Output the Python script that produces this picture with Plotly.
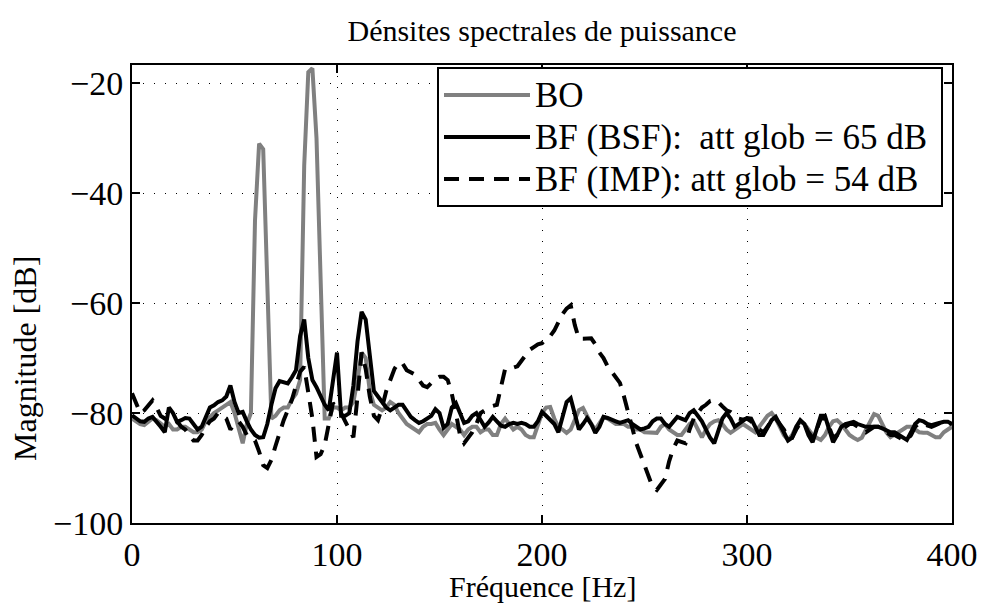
import plotly.graph_objects as go

freq = list(range(0, 401, 2))

bo = [-81, -81.5, -82, -82.2, -81.5, -81, -81.3, -82, -82.5, -82, -83, -83, -82.5, -82.5, -83, -83.5, -83.5, -83, -81.5, -80.7,
      -80, -79.5, -79, -78.5, -78, -80, -83, -85.5, -82, -80, -45, -31, -32, -55, -81, -80.5, -79.5, -79, -79, -77.5,
      -76.5, -74, -35, -18, -17.3, -30, -55, -81, -81, -79, -79, -79.5, -79, -79, -78, -74, -69, -70, -76, -78.5,
      -79, -79.5, -79, -78, -78.5, -80, -81, -82, -82.5, -83, -83.5, -82.5, -82, -82, -81.8, -83, -84, -83, -82, -82.5,
      -83, -84, -83, -82.5, -82.5, -83.5, -83, -83, -84, -84, -82, -81, -82, -83, -82.5, -83, -84, -84.4, -84.4, -82,
      -80, -79, -78.9, -81, -82.5, -83, -83.6, -83, -81, -79.5, -79.1, -80.5, -82, -83, -82, -80.7, -81, -81.5, -82, -82,
      -82, -82.5, -82.5, -83, -83, -83.5, -83.5, -83.6, -83.6, -82.5, -82, -83, -83.5, -84, -84, -83, -82, -81.5, -83, -84.4,
      -83, -82, -81.5, -81.3, -82, -83, -83.6, -83, -82.5, -82, -82.5, -83, -83.5, -82.5, -81.5, -80.5, -80, -81, -82.5, -84,
      -84.9, -84, -82.5, -81.5, -82, -83, -84, -84.5, -84.9, -84, -82.5, -81.5, -81.3, -82, -83, -84, -84.5, -84.9, -84.5, -83,
      -81.5, -80.2, -80.5, -82, -83.5, -84.4, -84, -83.5, -83, -82.5, -82.5, -83, -83.5, -83.6, -83.6, -84, -84.4, -84.4, -83.5, -83,
      -82.5]

bsf = [-80.4, -81, -81.5, -81.6, -81, -80.7, -81.5, -82.5, -83.5, -79, -80, -81.6, -81.3, -80.9, -81, -82, -83, -82.5, -80.5, -79,
       -78.6, -78, -77.7, -77, -75, -78, -80, -79.8, -81.5, -83, -84, -84.5, -84.4, -82, -78.5, -75.5, -74.2, -74.4, -74.6, -73.5,
       -72.2, -66, -63, -70, -74, -75.3, -77, -78.5, -79.5, -74, -69, -80.5, -80.5, -80, -75, -67, -61.6, -63, -70, -76,
       -77, -78, -79, -79.5, -79, -78.5, -78.5, -79.5, -80.7, -81.3, -81.8, -81.5, -80.9, -80.5, -79.3, -80, -82.7, -82, -79, -78.2,
       -80, -81.8, -81.5, -80.5, -80, -81.3, -82.5, -81.7, -80.7, -81.5, -82.3, -82.5, -82, -81.8, -82, -81.8, -82, -82.5, -82.5, -81.5,
       -79.8, -80.5, -81.3, -82, -83.5, -81, -78, -77.3, -80.5, -83, -82, -80.9, -82, -83.6, -82.5, -80.7, -80.9, -81.3, -81.5, -81.8,
       -81.5, -81.3, -82, -82.5, -83, -82.8, -82.5, -81.5, -81, -81, -82, -82.5, -81.5, -80.7, -81, -81.3, -80, -79.5, -80.5, -81.5,
       -83, -84.5, -85.5, -83, -81, -80, -81, -82.5, -82, -81.3, -80.9, -81, -82.5, -84, -84, -82.5, -81.3, -80.7, -82, -83.5,
       -85, -84.5, -82.5, -81.3, -82, -84, -85.3, -83, -80.5, -80.5, -83, -85.3, -84, -82.5, -82, -81.8, -81.6, -82, -82.3, -82.5,
       -82.5, -82.5, -82.5, -82.8, -83.2, -83.5, -83.5, -84, -84.5, -84.9, -83.5, -82, -81.3, -81.5, -82, -82.2, -82, -81.8, -81.6, -81.6,
       -82]

imp = [-76.4, -78, -80, -79.5, -78.5, -77.7, -79, -80.5, -81, -81.5, -81, -81.5, -82.5, -83, -84, -85, -85, -84, -82.5, -81.5,
       -81, -80, -80.5, -81, -83, -82, -81.5, -82.5, -84, -84.4, -85, -87, -89.5, -90, -88.5, -86, -83.5, -81.3, -79.5, -77.6,
       -75, -72.5, -71.6, -76, -81, -88, -87.5, -85.8, -82, -78.2, -79, -80, -81.5, -83, -84.4, -77, -69, -72, -77, -80.5,
       -81.3, -79, -76, -74, -72, -70.8, -71, -72.2, -72.6, -73, -74, -75, -75.3, -74.5, -73.8, -73.4, -73.4, -74, -76.5, -80,
       -84, -85.5, -84.5, -83.5, -82, -80, -79.5, -79, -78.7, -78.5, -75, -72, -72, -71.8, -71.5, -70.5, -69.5, -68.5, -68, -67.5,
       -67.3, -66.5, -66, -65, -63.5, -62, -61, -60.4, -64, -66.5, -66.5, -66.5, -66.4, -67.5, -69, -70, -71.5, -72.5, -73.5, -74.5,
       -77, -80, -83, -85.5, -87.5, -89.5, -91, -93.5, -94, -93, -92, -88.8, -86.5, -85, -85.2, -85.5, -83, -81, -80, -79,
       -78.5, -77.8, -77.6, -78, -78.8, -79.5, -79.8, -80.5, -81, -81.2, -81, -81.5, -82.5, -83, -83.5, -82.5, -81.3, -81, -82, -83,
       -84.5, -84.5, -83, -81.8, -82, -83.5, -84.5, -83, -81, -81, -82.5, -84.5, -84, -83, -82.5, -82, -82, -82.5, -83, -83.5,
       -83, -82.5, -82.5, -83, -83.5, -84, -84, -84.5, -84.8, -84.9, -84, -82.5, -81.8, -82, -82.3, -82.5, -82.2, -81.8, -81.5, -81.8,
       -82]

x_ticks = [0, 100, 200, 300, 400]
y_ticks = [-100, -80, -60, -40, -20]

names = ["BO", "BF (BSF):\u00a0 att glob = 65 dB", "BF (IMP): att glob = 54 dB"]
title_text = "Dénsites spectrales de puissance"
x_title = "Fréquence [Hz]"
y_title = "Magnitude [dB]"

FONT = "Liberation Serif"

# plot area in pixels: left 132, right 952, top 65, bottom 523
PL, PR, PT, PB = 132, 952, 65, 523
PW, PH = PR - PL, PB - PT


def legend_label(text):
    return '<span style="font-size:35px">' + text + '\u00a0</span>'


fig = go.Figure()
fig.add_trace(go.Scatter(x=freq, y=bo, mode="lines", name=legend_label(names[0]),
                         line=dict(color="#808080", width=4)))
fig.add_trace(go.Scatter(x=freq, y=bsf, mode="lines", name=legend_label(names[1]),
                         line=dict(color="black", width=4)))
fig.add_trace(go.Scatter(x=freq, y=imp, mode="lines", name=legend_label(names[2]),
                         line=dict(color="black", width=4, dash="15px,10px")))

axis_common = dict(
    showline=True, linecolor="black", linewidth=2, mirror="allticks",
    ticks="inside", ticklen=8, tickwidth=1.5, tickcolor="black",
    showgrid=True, gridcolor="black", gridwidth=1, griddash="1px,10px",
    zeroline=False, automargin=False,
    tickfont=dict(family=FONT, size=34, color="black"),
)

fig.update_xaxes(range=[0, 400], tickvals=x_ticks, **axis_common)
fig.update_yaxes(range=[-100, -16.7], tickvals=y_ticks, **axis_common)

fig.add_annotation(text=x_title, xref="paper", yref="paper",
                   x=(542 - PL) / PW, y=(PB - 586) / PH, xanchor="center", yanchor="middle",
                   showarrow=False, font=dict(family=FONT, size=30, color="black"))
fig.add_annotation(text=y_title, xref="paper", yref="paper", textangle=-90,
                   x=(25 - PL) / PW, y=(PB - 359) / PH, xanchor="center", yanchor="middle",
                   showarrow=False, font=dict(family=FONT, size=32, color="black"))

fig.update_layout(
    width=981, height=604,
    margin=dict(l=PL, r=981 - PR, t=PT, b=604 - PB, autoexpand=False),
    paper_bgcolor="white", plot_bgcolor="white",
    title=dict(text=title_text, x=542 / 981, xanchor="center",
               y=1 - 30 / 604, yanchor="middle", font=dict(family=FONT, size=30, color="black")),
    legend=dict(x=(437 - PL) / PW, y=1 - 2 / PH, xanchor="left", yanchor="top",
                bgcolor="white", bordercolor="black", borderwidth=2,
                font=dict(family=FONT, size=30, color="black"),
                itemwidth=86, tracegroupgap=0),
    showlegend=True,
)

fig.write_html("out.html", config={"displayModeBar": False},
               post_script="document.body.style.margin='0';document.body.style.overflow='hidden';")
